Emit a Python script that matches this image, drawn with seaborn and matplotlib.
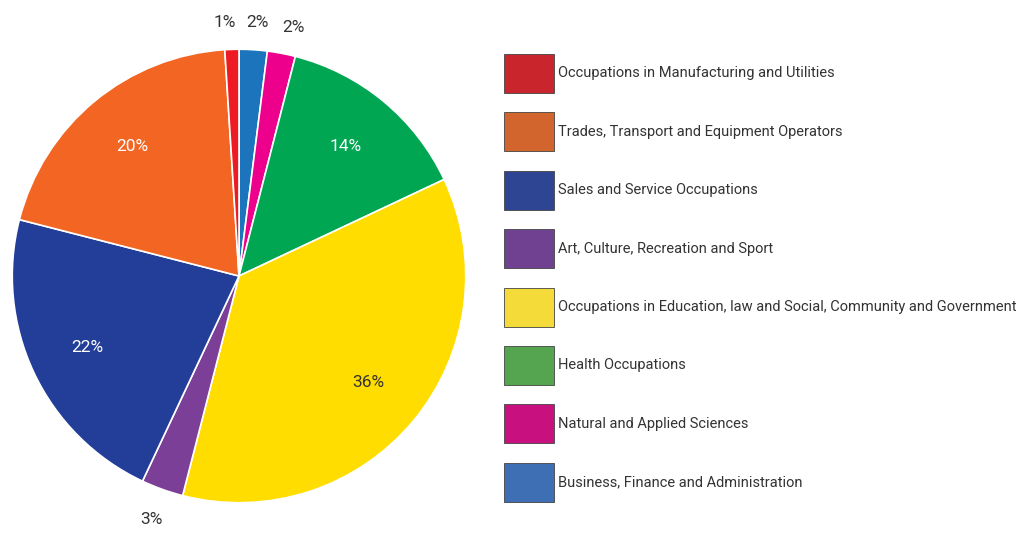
import matplotlib
matplotlib.use("Agg")
import numpy as np
import matplotlib.pyplot as plt
import seaborn as sns
from matplotlib.patches import Patch

# data, clockwise from 12 o'clock
categories = ["Business, Finance and Administration",
              "Natural and Applied Sciences",
              "Health Occupations",
              "Occupations in Education, law and Social, Community and Government",
              "Art, Culture, Recreation and Sport",
              "Sales and Service Occupations",
              "Trades, Transport and Equipment Operators",
              "Occupations in Manufacturing and Utilities"]
shares = [2, 2, 14, 36, 3, 22, 20, 1]
pie_colors = ["#1C75BC", "#EC008C", "#00A651", "#FFDD00",
              "#7B3F98", "#233E99", "#F26522", "#ED1C24"]
legend_colors = ["#3E6FB5", "#C8107F", "#55A44F", "#F4DB3A",
                 "#6F4190", "#2E4593", "#D2642E", "#C9252C"]
# legend order, top to bottom
legend_order = [7, 6, 5, 4, 3, 2, 1, 0]

sns.set_theme(style="white")
plt.rcParams["font.family"] = ["Roboto", "DejaVu Sans"]

fig = plt.figure(figsize=(10.17, 5.33), dpi=100)
W, H = 1017, 533
cx, cy, R = 239, 276, 229
ax = fig.add_axes([(cx - R) / W, (H - cy - R) / H, 2 * R / W, 2 * R / H])

wedges, _ = ax.pie(shares, colors=pie_colors, startangle=90, counterclock=False,
                   wedgeprops=dict(edgecolor="white", linewidth=1.2))
ax.set_xlim(-1.01, 1.01)
ax.set_ylim(-1.01, 1.01)
ax.set_aspect("equal")
ax.axis("off")

# percent labels
tweak = {0: 0.5, 1: 1.5, 7: -1.5}
for i, w in enumerate(wedges):
    ang = np.deg2rad((w.theta1 + w.theta2) / 2)
    big = shares[i] >= 10
    if big:
        r = 0.74
    elif i in (0, 1, 7):
        r = 1.12
        ang += np.deg2rad(-tweak[i])
    else:
        r = 1.14
    col = "#333333" if (not big or i == 3) else "white"
    ax.text(r * np.cos(ang), r * np.sin(ang), f"{shares[i]}%",
            ha="center", va="center", fontsize=12.5, color=col)

handles = [Patch(facecolor=legend_colors[i], edgecolor="#444444", linewidth=0.6)
           for i in legend_order]
labels = [categories[i] for i in legend_order]
fs = 10.5
fpx = fs * 100 / 72
hh = (39 / fpx - 0.245) / 0.65
fig.legend(handles, labels, loc="upper left",
           bbox_to_anchor=(504 / W, 1 - 54 / H), bbox_transform=fig.transFigure,
           frameon=False, fontsize=fs, borderpad=0, borderaxespad=0,
           handlelength=50 / fpx, handleheight=hh,
           labelspacing=(58.4 - 39) / fpx, handletextpad=0.3,
           labelcolor="#333333")

fig.savefig("out.png", dpi=100, facecolor="white")
